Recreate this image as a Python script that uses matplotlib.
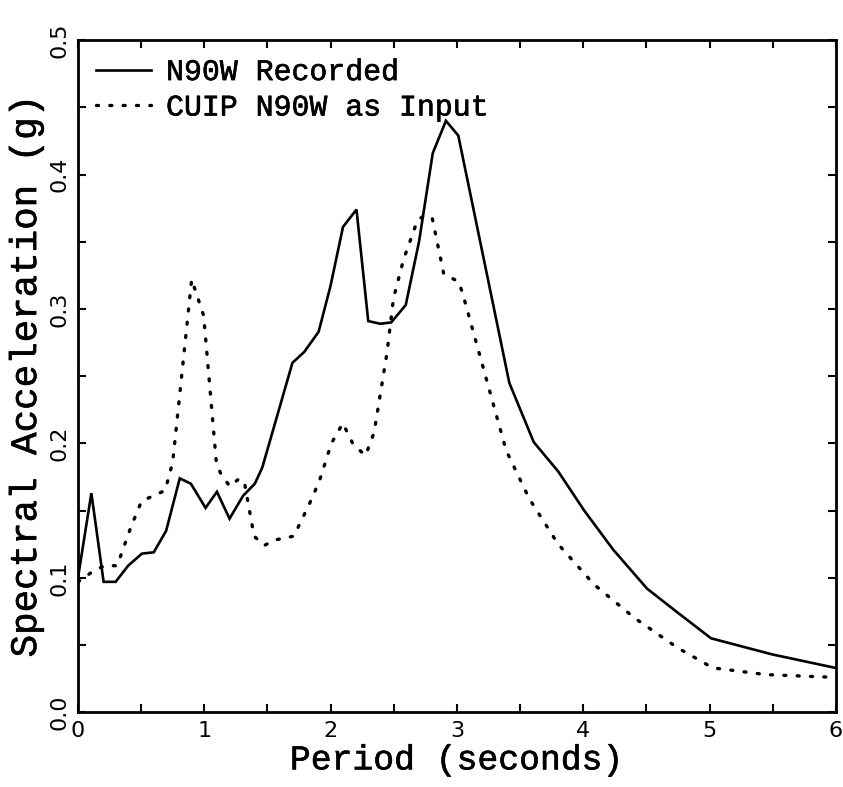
import matplotlib
matplotlib.use("Agg")
import matplotlib.pyplot as plt
import matplotlib.patheffects as pe
from matplotlib.ticker import MultipleLocator

# ── DATA ───────────────────────────────────────────────────────────────────────
rec_period = [0.0, 0.106, 0.203, 0.298, 0.397, 0.506, 0.600, 0.698, 0.806, 0.894,
              1.010, 1.100, 1.200, 1.307, 1.400, 1.459, 1.698, 1.791, 1.905, 1.999,
              2.098, 2.205, 2.298, 2.393, 2.480, 2.595, 2.700, 2.809, 2.913, 3.011,
              3.415, 3.608, 3.803, 4.008, 4.237, 4.505, 4.722, 5.012, 5.497, 5.996]
rec_sa = [0.100, 0.163, 0.097, 0.097, 0.109, 0.118, 0.119, 0.135, 0.174, 0.170,
          0.152, 0.164, 0.144, 0.161, 0.170, 0.182, 0.260, 0.268, 0.283, 0.317,
          0.361, 0.374, 0.291, 0.289, 0.290, 0.303, 0.350, 0.416, 0.440, 0.429,
          0.245, 0.201, 0.179, 0.150, 0.121, 0.092, 0.076, 0.055, 0.043, 0.033]

inp_period = [0.0, 0.137, 0.215, 0.310, 0.420, 0.503, 0.596, 0.690, 0.750, 0.900,
              0.995, 1.095, 1.128, 1.202, 1.279, 1.320, 1.394, 1.474, 1.552, 1.709,
              1.837, 1.911, 2.006, 2.097, 2.180, 2.277, 2.344, 2.446, 2.498, 2.578,
              2.688, 2.750, 2.806, 2.896, 2.960, 3.016, 3.050, 3.389, 3.572, 3.802,
              4.086, 4.408, 4.746, 5.026, 5.446, 5.975]
inp_sa = [0.097, 0.106, 0.109, 0.109, 0.138, 0.157, 0.161, 0.165, 0.186, 0.322,
          0.295, 0.186, 0.178, 0.168, 0.174, 0.170, 0.131, 0.124, 0.128, 0.131,
          0.156, 0.172, 0.200, 0.215, 0.199, 0.191, 0.208, 0.267, 0.308, 0.337,
          0.366, 0.370, 0.367, 0.326, 0.323, 0.320, 0.310, 0.195, 0.159, 0.125,
          0.095, 0.070, 0.048, 0.033, 0.028, 0.026]

rec_label = "N90W Recorded"
inp_label = "CUIP N90W as Input"

MONO = "Liberation Mono"
# thicken the thin Courier-like strokes a little, like the scanned print
THICK = [pe.withStroke(linewidth=0.45, foreground="black")]

fig = plt.figure(figsize=(8.43, 7.87), dpi=100)
ax = fig.add_axes([0.0925, 0.095, 0.899, 0.854])

ax.plot(rec_period, rec_sa, color="black", lw=1.9, solid_joinstyle="miter",
        label=rec_label)
ax.plot(inp_period, inp_sa, color="black", lw=2.4, linestyle=(0, (0.6, 3.4)),
        dash_capstyle="round", label=inp_label)

ax.set_xlim(0, 6)
ax.set_ylim(0, 0.5)

# ticks point inward on every side
ax.xaxis.set_major_locator(MultipleLocator(1))
ax.xaxis.set_minor_locator(MultipleLocator(0.5))
ax.yaxis.set_major_locator(MultipleLocator(0.1))
ax.yaxis.set_minor_locator(MultipleLocator(0.05))
ax.tick_params(which="both", direction="in", top=True, right=True,
               length=6, width=1.5)
ax.tick_params(axis="x", labelsize=16, pad=6)
ax.tick_params(axis="y", labelsize=16, pad=6, labelrotation=90)
for lbl in ax.get_yticklabels():
    lbl.set_verticalalignment("center")

for sp in ax.spines.values():
    sp.set_linewidth(2.0)

xl = ax.set_xlabel("Period (seconds)", family=MONO, fontsize=25, labelpad=2)
yl = ax.set_ylabel("Spectral Acceleration (g)", family=MONO, fontsize=27,
                   labelpad=4)
xl.set_path_effects(THICK)
yl.set_path_effects(THICK)

leg = ax.legend(loc="upper left", frameon=False,
                prop={"family": MONO, "size": 21.5},
                handlelength=1.85, handletextpad=0.5, labelspacing=0.25,
                borderaxespad=0.4, borderpad=0.2)
for t in leg.get_texts():
    t.set_path_effects(THICK)

fig.savefig("out.png", dpi=100)
